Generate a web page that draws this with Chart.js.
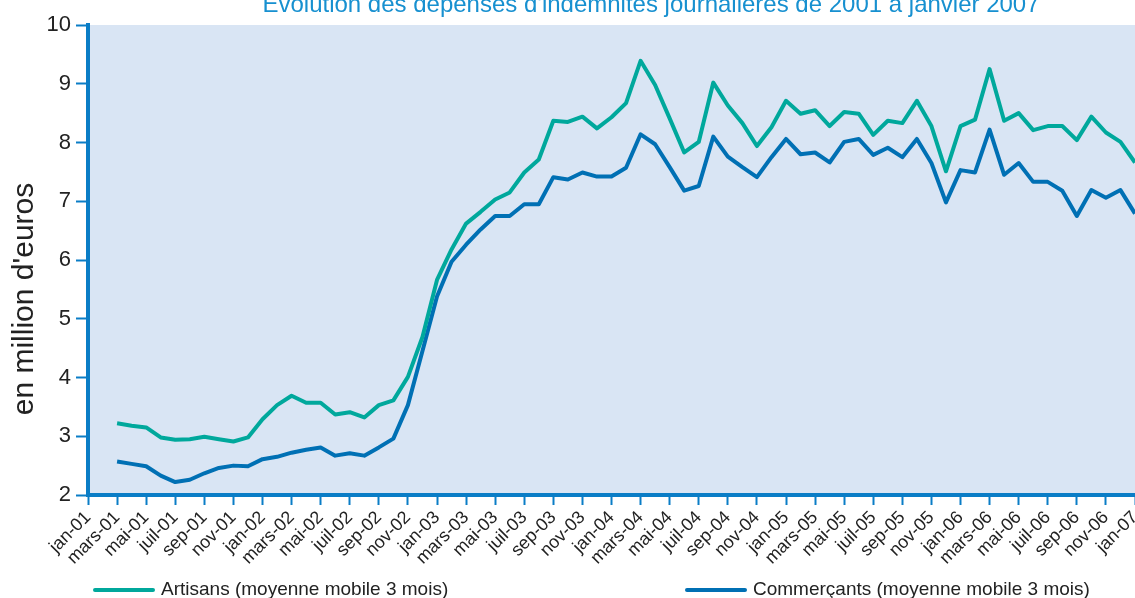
<!DOCTYPE html>
<html><head><meta charset="utf-8">
<script src="https://cdn.jsdelivr.net/npm/chart.js@4.4.0/dist/chart.umd.min.js"></script>
<style>html,body{margin:0;padding:0;background:#fff;}#wrap{width:1135px;height:598px;position:relative;overflow:hidden;}</style>
</head><body><div id="wrap"><canvas id="c" width="1135" height="598"></canvas></div>
<script>
const monthNames = ['jan','fév','mars','avr','mai','juin','juil','août','sep','oct','nov','déc'];
const yearLabels = ['01','02','03','04','05','06','07'];
const categories = [];
yearLabels.forEach(y => monthNames.forEach(m => { if (categories.length < 73) categories.push(m + '-' + y); }));

// 3-month moving averages, starting at mars-01 (jan-01 and fév-01 have no value)
const artisans = [3.22,3.18,3.15,2.98,2.94,2.95,2.99,2.95,2.91,2.98,
  3.29,3.53,3.69,3.57,3.57,3.37,3.41,3.32,3.53,3.61,
  4.01,4.69,5.66,6.18,6.62,6.82,7.03,7.15,7.49,7.71,
  8.37,8.35,8.44,8.24,8.43,8.67,9.39,8.98,8.41,7.83,
  8.01,9.02,8.63,8.33,7.94,8.26,8.71,8.49,8.55,8.28,
  8.52,8.49,8.13,8.37,8.33,8.71,8.28,7.51,8.28,8.39,
  9.25,8.37,8.50,8.21,8.28,8.28,8.04,8.44,8.17,8.01,7.66];
const commercants = [2.57,2.53,2.49,2.33,2.22,2.26,2.37,2.46,2.50,2.49,
  2.61,2.65,2.72,2.77,2.81,2.67,2.71,2.67,2.81,2.96,
  3.53,4.45,5.38,5.97,6.26,6.52,6.75,6.75,6.95,6.95,
  7.41,7.37,7.49,7.42,7.42,7.57,8.14,7.97,7.58,7.18,
  7.26,8.10,7.76,7.58,7.41,7.75,8.06,7.80,7.83,7.66,
  8.01,8.06,7.79,7.91,7.75,8.06,7.65,6.98,7.53,7.49,
  8.22,7.45,7.65,7.33,7.33,7.18,6.75,7.19,7.06,7.19,6.79];
const missingStart = [null, null];
const yTicks = [2,3,4,5,6,7,8,9,10];

const titleText = "Evolution des dépenses d'indemnités journalières de 2001 à janvier 2007";
const yTitleText = "en million d'euros";
const seriesNames = ['Artisans (moyenne mobile 3 mois)', 'Commerçants (moyenne mobile 3 mois)'];

const AXIS = '#0a7dc6';
const TEAL = '#00a89c';
const BLUE = '#0070b4';
const FONT = '"Liberation Sans", Arial, sans-serif';

const bgPlugin = {
  id: 'bg',
  beforeDraw(chart) {
    const {ctx, chartArea: a, width, height} = chart;
    ctx.save();
    ctx.fillStyle = '#ffffff';
    ctx.fillRect(0, 0, width, height);
    ctx.fillStyle = '#d9e5f4';
    ctx.fillRect(a.left, a.top, a.right - a.left, a.bottom - a.top);
    ctx.restore();
  }
};

const decoPlugin = {
  id: 'deco',
  afterDraw(chart) {
    const ctx = chart.ctx;
    ctx.save();
    // title (partly cut at the top, as in the reference)
    ctx.fillStyle = '#1790d0';
    ctx.font = '24px ' + FONT;
    ctx.textAlign = 'center';
    ctx.textBaseline = 'alphabetic';
    ctx.fillText(titleText, 651, 12);
    // y axis title
    ctx.save();
    ctx.translate(33, 299);
    ctx.rotate(-Math.PI / 2);
    ctx.fillStyle = '#222222';
    ctx.font = '30px ' + FONT;
    ctx.textAlign = 'center';
    ctx.fillText(yTitleText, 0, 0);
    ctx.restore();
    // legend
    const legendX = [95, 687];
    const ly = 590;
    ctx.font = '19px ' + FONT;
    ctx.textAlign = 'left';
    ctx.textBaseline = 'middle';
    chart.data.datasets.forEach((ds, i) => {
      const x0 = legendX[i];
      ctx.strokeStyle = ds.borderColor;
      ctx.lineWidth = 4;
      ctx.lineCap = 'round';
      ctx.beginPath();
      ctx.moveTo(x0, ly);
      ctx.lineTo(x0 + 58, ly);
      ctx.stroke();
      ctx.fillStyle = '#222222';
      ctx.fillText(ds.label, x0 + 66, ly);
    });
    ctx.restore();
  }
};

new Chart(document.getElementById('c').getContext('2d'), {
  type: 'line',
  data: {
    labels: categories,
    datasets: [
      {label: seriesNames[0], data: missingStart.concat(artisans), borderColor: TEAL, backgroundColor: TEAL,
       borderWidth: 4, pointRadius: 0, tension: 0, fill: false, borderJoinStyle: 'round'},
      {label: seriesNames[1], data: missingStart.concat(commercants), borderColor: BLUE, backgroundColor: BLUE,
       borderWidth: 4, pointRadius: 0, tension: 0, fill: false, borderJoinStyle: 'round'}
    ]
  },
  options: {
    responsive: false,
    animation: false,
    devicePixelRatio: 1,
    layout: {padding: {top: 25, left: 0, right: 0, bottom: 0}},
    plugins: {legend: {display: false}, title: {display: false}, tooltip: {enabled: false}},
    scales: {
      x: {
        type: 'category',
        offset: false,
        grid: {display: true, drawOnChartArea: false, drawTicks: true, tickLength: 10,
               tickColor: (c) => (c.index % 2 === 0 ? AXIS : 'rgba(0,0,0,0)'), tickWidth: 2},
        border: {display: true, color: AXIS, width: 4},
        ticks: {autoSkip: false, maxRotation: 45, minRotation: 45, padding: 2, color: '#222222',
                font: {family: FONT, size: 18},
                callback: function (v, i) { return i % 2 === 0 ? this.getLabelForValue(v) : ''; }},
        afterFit: (s) => { s.height = 103; s.paddingLeft = 0; s.paddingRight = 0; }
      },
      y: {
        min: 2, max: 10,
        afterBuildTicks: (s) => { s.ticks = yTicks.map(v => ({value: v})); },
        ticks: {padding: 5, color: '#222222', font: {family: FONT, size: 22}},
        grid: {display: true, drawOnChartArea: false, drawTicks: true, tickLength: 12, tickColor: AXIS, tickWidth: 2},
        border: {display: true, color: AXIS, width: 4},
        afterFit: (s) => { s.width = 88; }
      }
    }
  },
  plugins: [bgPlugin, decoPlugin]
});
</script></body></html>
